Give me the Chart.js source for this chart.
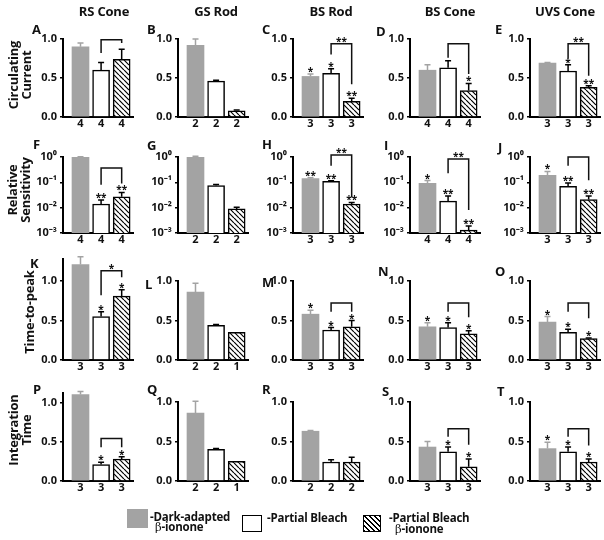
<!DOCTYPE html>
<html>
<head>
<meta charset="utf-8">
<script src="https://cdn.jsdelivr.net/npm/chart.js@4.4.1/dist/chart.umd.min.js"></script>
<style>
  body { margin:0; width:604px; height:540px; position:relative; overflow:hidden; background:#fff;
         font-family:'Open Sans', sans-serif; font-weight:700; color:#111; }
  canvas { position:absolute; }
  .t { position:absolute; white-space:nowrap; line-height:1; }
  .title { font-size:13px; transform:translateX(-50%); letter-spacing:-0.2px; }
  .letter { font-size:13px; }
  .rowlab { font-size:13px; line-height:13px; text-align:center; letter-spacing:-0.2px;
            transform:translate(-50%,-50%) rotate(-90deg); }
  .leg { font-size:11.5px; letter-spacing:-0.2px; }
  .box { position:absolute; box-sizing:border-box; }
</style>
</head>
<body>
<script>
// cell types (columns) and measures (rows)
const cellTypes = ['RS Cone', 'GS Rod', 'BS Rod', 'BS Cone', 'UVS Cone'];
const measureNames = [['Circulating', 'Current'], ['Relative', 'Sensitivity'], ['Time-to-peak'], ['Integration', 'Time']];
const panelLetters = [['A','B','C','D','E'], ['F','G','H','I','J'], ['K','L','M','N','O'], ['P','Q','R','S','T']];

// bar order: dark-adapted b-ionone, partial bleach, partial bleach b-ionone
const currentMeans  = [[0.90,0.60,0.74],[0.92,0.46,0.08],[0.52,0.56,0.20],[0.60,0.63,0.34],[0.69,0.59,0.38]];
const currentErrors = [[0.05,0.10,0.13],[0.08,0.01,0.01],[0.03,0.06,0.04],[0.07,0.09,0.09],[0.01,0.08,0.02]];
const sensitivityMeans  = [[1.0,0.014,0.027],[1.0,0.075,0.0089],[0.14,0.11,0.014],[0.092,0.018,0.0013],[0.19,0.07,0.021]];
const sensitivityErrors = [[0.02,0.006,0.013],[0.06,0.008,0.0015],[0.01,0.005,0.002],[0.025,0.011,0.0006],[0.08,0.025,0.008]];
const peakMeans  = [[1.21,0.55,0.81],[0.86,0.44,0.35],[0.58,0.38,0.42],[0.42,0.41,0.33],[0.48,0.35,0.27]];
const peakErrors = [[0.10,0.06,0.08],[0.11,0.01,0],[0.05,0.03,0.08],[0.05,0.06,0.04],[0.07,0.04,0.01]];
const integrationMeans  = [[1.10,0.21,0.28],[0.86,0.40,0.25],[0.63,0.24,0.24],[0.43,0.37,0.18],[0.41,0.37,0.24]];
const integrationErrors = [[0.04,0.03,0.03],[0.15,0.01,0],[0.01,0.03,0.06],[0.07,0.06,0.10],[0.08,0.06,0.04]];

// n per bar
const cellCounts = [
  [[4,4,4],[2,2,2],[3,3,3],[4,4,4],[3,3,3]],
  [[4,4,4],[2,2,2],[3,3,3],[4,4,4],[3,3,3]],
  [[3,3,3],[2,2,1],[3,3,3],[3,3,3],[3,3,3]],
  [[3,3,3],[2,2,1],[2,2,2],[3,3,3],[3,3,3]]
];
// significance marks above each bar
const starMarks = [
  [['','',''],['','',''],['*','*','**'],['','','*'],['','*','**']],
  [['','**','**'],['','',''],['**','**','**'],['*','**','**'],['*','**','**']],
  [['','*','*'],['','',''],['*','*','*'],['*','*','*'],['*','*','*']],
  [['','*','*'],['','',''],['','',''],['','*','*'],['*','*','*']]
];
// bracket between bar 2 and bar 3: [top, left leg end, right leg end, mark]
const brackets = [
  [[0.99,0.82,0.95,''], null, [0.94,0.80,0.42,'**'], [0.94,0.76,0.55,''], [0.94,0.75,0.53,'**']],
  [[0.37,0.08,0.09,''], null, [1.2,0.45,0.026,'**'], [0.83,0.23,0.008,'**'], [1.0,0.45,0.12,'']],
  [[1.13,0.82,1.05,'*'], null, [0.72,0.61,0.61,''], [0.72,0.61,0.54,''], [0.72,0.61,0.53,'']],
  [[0.54,0.43,0.43,''], null, null, [0.66,0.56,0.46,''], [0.66,0.56,0.45,'']]
];
const linearTicks = [0, 0.5, 1];
const linearTickLabels = ['0.0', '0.5', '1.0'];
const logTicks = [0.001, 0.01, 0.1, 1];
const logTickLabels = ['10\u207B\u00B3', '10\u207B\u00B2', '10\u207B\u00B9', '10\u2070'];
const axisMax = [[1,1,1,1,1],[1,1,1,1,1],[1.28,1,1,1,1],[1.12,1,1,1,1]];

const meansByRow = [currentMeans, sensitivityMeans, peakMeans, integrationMeans];
const errorsByRow = [currentErrors, sensitivityErrors, peakErrors, integrationErrors];

// layout (pixels)
const colAxisX = [63, 178, 293, 410, 530];
const rowZeroY = [117, 233, 360, 481];
const rowUnit = [78, 0, 79, 79];
const logTopY = 157;
const titleX = [104, 216, 331, 450, 565];
const letterPos = [
  [[32,25],[147,25],[262,25],[376,27],[495,25]],
  [[33,140],[147,141],[262,140],[384,141],[498,143]],
  [[30,259],[145,280],[262,278],[378,267],[495,267]],
  [[33,385],[147,385],[262,385],[382,387],[497,387]]
];
const rowLabelPos = [[20,75],[19,190],[29,312],[20,430]];

const GRAY = '#a3a3a3';
const FONT = "'Open Sans', sans-serif";
Chart.defaults.font.family = FONT;
Chart.defaults.font.weight = 'bold';
Chart.defaults.color = '#111';

function addText(cls, txt, x, y) {
  const d = document.createElement('div');
  d.className = 't ' + cls;
  d.innerHTML = txt;
  d.style.left = x + 'px';
  d.style.top = y + 'px';
  document.body.appendChild(d);
  return d;
}

function hatchFor(ctx) {
  const p = document.createElement('canvas');
  p.width = p.height = 5;
  const g = p.getContext('2d');
  g.fillStyle = '#fff';
  g.fillRect(0, 0, 5, 5);
  g.strokeStyle = '#000';
  g.lineWidth = 1.2;
  g.beginPath();
  for (const k of [-1, 0, 1]) { g.moveTo(k * 5, 0); g.lineTo(k * 5 + 5, 5); }
  g.stroke();
  return ctx.createPattern(p, 'repeat');
}

function makePanel(r, c) {
  const isLog = r === 1;
  const means = meansByRow[r][c];
  const errs = errorsByRow[r][c];
  const counts = cellCounts[r][c];
  const marks = starMarks[r][c];
  const br = brackets[r][c];
  const maxV = isLog ? 1 : axisMax[r][c];
  const zero = rowZeroY[r];
  const areaTop = Math.round(isLog ? logTopY : zero - maxV * rowUnit[r]);
  const plotH = zero - areaTop;
  const padTop = 34, leftW = 44, plotW = 70, padRight = 6, bottomH = 22;

  const cv = document.createElement('canvas');
  cv.width = leftW + plotW + padRight;
  cv.height = padTop + plotH + bottomH;
  cv.style.left = (colAxisX[c] - leftW) + 'px';
  cv.style.top = (areaTop - padTop) + 'px';
  document.body.appendChild(cv);
  const ctx = cv.getContext('2d');

  const annotate = {
    id: 'annotate',
    afterDatasetsDraw(chart) {
      const xs = chart.scales.x, ys = chart.scales.y, g = chart.ctx;
      g.save();
      g.lineWidth = 1.5;
      g.textAlign = 'center';
      g.textBaseline = 'alphabetic';
      g.font = 'bold 10px ' + FONT;
      means.forEach((m, i) => {
        const x = xs.getPixelForValue(i + 1);
        const y0 = ys.getPixelForValue(m);
        const y1 = ys.getPixelForValue(m + errs[i]);
        g.strokeStyle = i === 0 ? GRAY : '#000';
        if (errs[i] > 0) {
          g.beginPath();
          g.moveTo(x, y0); g.lineTo(x, y1);
          g.moveTo(x - 3, y1); g.lineTo(x + 3, y1);
          g.stroke();
        }
        if (marks[i]) {
          g.fillStyle = '#111';
          g.fillText(marks[i], x, y1 + 1);
        }
      });
      if (br) {
        const xa = xs.getPixelForValue(2), xb = xs.getPixelForValue(3);
        const yt = ys.getPixelForValue(br[0]);
        g.strokeStyle = '#111';
        g.beginPath();
        g.moveTo(xa, ys.getPixelForValue(br[1]));
        g.lineTo(xa, yt); g.lineTo(xb, yt);
        g.lineTo(xb, ys.getPixelForValue(br[2]));
        g.stroke();
        if (br[3]) {
          g.fillStyle = '#111';
          g.fillText(br[3], (xa + xb) / 2, yt + 1);
        }
      }
      g.restore();
    }
  };

  new Chart(ctx, {
    type: 'bar',
    data: {
      datasets: [{
        data: means.map((v, i) => ({ x: i + 1, y: v })),
        backgroundColor: [GRAY, '#fff', hatchFor(ctx)],
        borderColor: [GRAY, '#000', '#000'],
        borderWidth: [0, 1.5, 1.5],
        barThickness: 17
      }]
    },
    options: {
      responsive: false,
      animation: false,
      devicePixelRatio: 1,
      layout: { padding: { top: padTop, right: padRight, left: 0, bottom: 0 } },
      plugins: { legend: { display: false }, tooltip: { enabled: false } },
      scales: {
        x: {
          type: 'linear', min: 0.15, max: 3.55, offset: false,
          afterBuildTicks: s => { s.ticks = [1, 2, 3].map(v => ({ value: v })); },
          afterFit: s => { s.height = bottomH; },
          ticks: { callback: (v, i) => String(counts[i]), font: { size: 11, weight: 'bold' },
                   padding: 0, maxRotation: 0, autoSkip: false, color: '#111' },
          grid: { display: false, drawTicks: false, tickLength: 0, offset: false },
          border: { display: true, color: '#000', width: 2 }
        },
        y: {
          type: isLog ? 'logarithmic' : 'linear',
          min: isLog ? 0.001 : 0, max: maxV,
          afterBuildTicks: s => { s.ticks = (isLog ? logTicks : linearTicks).map(v => ({ value: v })); },
          afterFit: s => { s.width = leftW; },
          ticks: { callback: (v, i) => (isLog ? logTickLabels : linearTickLabels)[i],
                   font: { size: 11, weight: 'bold' }, padding: 3, color: '#111' },
          grid: { display: true, drawOnChartArea: false, drawTicks: true, tickLength: 3, color: '#000', lineWidth: 1.5 },
          border: { display: true, color: '#000', width: 2 }
        }
      }
    },
    plugins: [annotate]
  });
}

for (let r = 0; r < 4; r++) {
  for (let c = 0; c < 5; c++) {
    makePanel(r, c);
    addText('letter', panelLetters[r][c], letterPos[r][c][0], letterPos[r][c][1] - 2);
  }
  addText('rowlab', measureNames[r].join('<br>'), rowLabelPos[r][0], rowLabelPos[r][1]);
}
cellTypes.forEach((name, c) => addText('title', name, titleX[c], 5));

// legend
function addBox(x, y, w, h, style) {
  const b = document.createElement('div');
  b.className = 'box';
  Object.assign(b.style, { left: x + 'px', top: y + 'px', width: w + 'px', height: h + 'px' }, style);
  document.body.appendChild(b);
}
addBox(127, 509, 21, 19, { background: GRAY });
addText('leg', '-Dark-adapted', 150, 511);
addText('leg', '<span style="font-family:\'DejaVu Serif\',serif;font-weight:400">\u03B2</span>-ionone', 155, 521);
addBox(242, 515, 20, 17, { background: '#fff', border: '1.5px solid #000' });
addText('leg', '-Partial Bleach', 267, 512);
addBox(363, 515, 18, 17, { border: '1px solid #000',
  background: 'repeating-linear-gradient(45deg, #000 0 1px, #fff 1px 3.5px)' });
addText('leg', '-Partial Bleach', 389, 512);
addText('leg', '<span style="font-family:\'DejaVu Serif\',serif;font-weight:400">\u03B2</span>-ionone', 395, 523);
</script>
</body>
</html>
